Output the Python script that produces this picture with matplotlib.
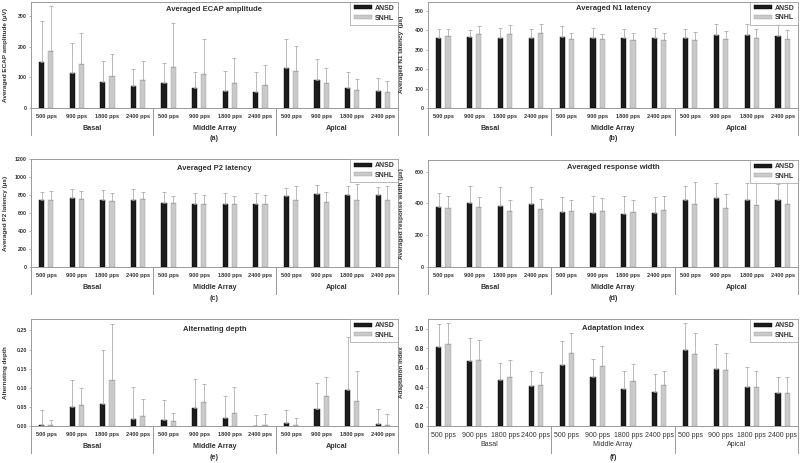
import numpy as np
import matplotlib
matplotlib.use("Agg")
import matplotlib.pyplot as plt
from matplotlib.patches import Patch
import matplotlib.transforms as mtransforms

plt.rcParams['font.family'] = ['Liberation Sans', 'DejaVu Sans']

rates = ["500 pps", "900 pps", "1800 pps", "2400 pps"]
regions = ["Basal", "Middle Array", "Apical"]

# (a) ECAP amplitude (uV)
ecap_ansd = [150, 114, 84, 71, 83, 65, 57, 51, 129, 92, 66, 55]
ecap_ansd_sd = [133, 99, 68, 55, 64, 52, 65, 66, 95, 68, 51, 42]
ecap_snhl = [185, 142, 104, 91, 134, 110, 82, 74, 121, 80, 59, 52]
ecap_snhl_sd = [148, 103, 72, 61, 143, 114, 80, 66, 80, 49, 37, 35]

# (b) N1 latency (us)
n1_ansd = [361, 365, 358, 358, 365, 358, 358, 361, 361, 375, 373, 368]
n1_ansd_sd = [43, 37, 51, 50, 55, 51, 46, 48, 43, 57, 59, 64]
n1_snhl = [370, 380, 378, 385, 354, 354, 351, 349, 351, 356, 360, 356]
n1_snhl_sd = [38, 40, 47, 45, 30, 28, 34, 35, 38, 40, 44, 43]

# (c) P2 latency (us)
p2_ansd = [740, 765, 740, 750, 715, 700, 695, 700, 785, 810, 795, 795]
p2_ansd_sd = [95, 100, 115, 115, 115, 120, 130, 120, 95, 100, 100, 95]
p2_snhl = [745, 755, 730, 755, 710, 705, 700, 705, 745, 725, 745, 745]
p2_snhl_sd = [95, 90, 95, 80, 80, 90, 90, 95, 150, 105, 175, 155]

# (d) response width (us)
rw_ansd = [375, 400, 383, 394, 349, 341, 337, 341, 421, 436, 421, 423]
rw_ansd_sd = [88, 109, 118, 111, 95, 109, 113, 103, 91, 92, 107, 101]
rw_snhl = [373, 375, 354, 368, 352, 352, 347, 362, 394, 373, 389, 394]
rw_snhl_sd = [73, 67, 69, 61, 71, 84, 78, 86, 141, 84, 154, 145]

# (e) alternating depth
ad_ansd = [0.003, 0.049, 0.058, 0.019, 0.015, 0.046, 0.021, 0.0, 0.008, 0.044, 0.095, 0.005]
ad_ansd_sd = [0.038, 0.071, 0.141, 0.084, 0.052, 0.078, 0.057, 0.030, 0.034, 0.068, 0.139, 0.039]
ad_snhl = [0.002, 0.056, 0.120, 0.025, 0.012, 0.064, 0.033, 0.003, 0.002, 0.079, 0.065, 0.002]
ad_snhl_sd = [0.014, 0.044, 0.146, 0.045, 0.023, 0.046, 0.069, 0.028, 0.018, 0.048, 0.078, 0.029]

# (f) adaptation index
ai_ansd = [0.81, 0.665, 0.47, 0.41, 0.63, 0.505, 0.385, 0.345, 0.785, 0.59, 0.405, 0.34]
ai_ansd_sd = [0.24, 0.235, 0.18, 0.155, 0.24, 0.185, 0.185, 0.19, 0.275, 0.25, 0.205, 0.16]
ai_snhl = [0.845, 0.675, 0.50, 0.425, 0.75, 0.62, 0.465, 0.425, 0.74, 0.58, 0.40, 0.34]
ai_snhl_sd = [0.21, 0.205, 0.175, 0.13, 0.205, 0.20, 0.17, 0.145, 0.22, 0.17, 0.165, 0.165]

ANSD_COL = "#1c1c1c"
SNHL_COL = "#c9c9c9"
FRAME = "#9a9a9a"


def draw_panel(ax, ansd, ansd_sd, snhl, snhl_sd, title, ylabel, yticks, ytop,
               fmt, letter, title_y, big=False):
    x = np.arange(len(ansd))
    w = 0.17
    err_kw = dict(ecolor="#a0a0a0", elinewidth=0.5, capsize=1.3, capthick=0.5)
    ax.bar(x - 0.15, ansd, w, color=ANSD_COL, edgecolor="#000000", linewidth=0.3,
           yerr=[np.zeros(len(ansd)), ansd_sd], error_kw=err_kw, zorder=3)
    ax.bar(x + 0.15, snhl, w, color=SNHL_COL, edgecolor="#9a9a9a", linewidth=0.3,
           yerr=[np.zeros(len(snhl)), snhl_sd], error_kw=err_kw, zorder=3)
    ax.set_xlim(-0.5, 11.5)
    ax.set_ylim(0, ytop)
    ax.set_yticks(yticks)
    ax.set_yticklabels([fmt.format(v) for v in yticks])
    for s in ax.spines.values():
        s.set_color(FRAME)
        s.set_linewidth(0.7)
    ax.tick_params(axis="y", length=1.5, width=0.5, color=FRAME, pad=1.5,
                   labelsize=4.8 if big else 3.8, labelcolor="#333333")
    for lab in ax.get_yticklabels():
        lab.set_fontweight("bold")
    ax.set_xticks(x)
    ax.set_xticklabels(rates * 3, fontsize=5.0 if big else 4.1,
                       fontweight="normal" if big else "bold", color="#333333")
    ax.tick_params(axis="x", length=0, pad=4.5 if big else 4.2)

    trans = mtransforms.blended_transform_factory(ax.transData, ax.transAxes)
    for b in [-0.5, 3.5, 7.5, 11.5]:
        ax.plot([b, b], [0, -0.25], transform=trans, color=FRAME, lw=0.7,
                clip_on=False)
    for i, r in enumerate(regions):
        ax.text(4 * i + 1.5, -0.17 if big else -0.19, r, transform=trans,
                ha="center", va="center", fontsize=5.0 if big else 5.2,
                fontweight="normal" if big else "bold", color="#333333")
    ax.text(0.5, -0.29, letter, transform=ax.transAxes, ha="center",
            va="center", fontsize=5.2, fontweight="bold", color="#333333")

    ax.text(0.5, title_y, title, transform=ax.transAxes, ha="center",
            va="center", fontsize=5.5, fontweight="bold", color="#333333")
    ax.set_ylabel(ylabel, fontsize=4.6, fontweight="bold", color="#333333")
    ax.yaxis.set_label_coords(-0.064, 0.5)

    handles = [Patch(facecolor=ANSD_COL, edgecolor="#000000", linewidth=0.3),
               Patch(facecolor=SNHL_COL, edgecolor="#9a9a9a", linewidth=0.3)]
    leg = ax.legend(handles, ["ANSD", "SNHL"], loc="upper right",
                    borderaxespad=0, fancybox=False, handlelength=2.6,
                    handleheight=0.5, handletextpad=0.5, borderpad=0.45,
                    labelspacing=0.4,
                    prop={"size": 5.0, "weight": "bold"})
    leg.get_frame().set_edgecolor(FRAME)
    leg.get_frame().set_linewidth(0.6)
    for t in leg.get_texts():
        t.set_color("#333333")


fig = plt.figure(figsize=(8, 4.63), dpi=100)
H = 463.0
W = 800.0


def px_axes(left, top, right, bottom):
    return fig.add_axes([left / W, 1 - bottom / H, (right - left) / W, (bottom - top) / H])


ax_a = px_axes(31, 1.7, 398, 108)
ax_b = px_axes(428, 1.5, 798, 108)
ax_c = px_axes(31, 159, 398, 267)
ax_d = px_axes(428, 160, 798, 267)
ax_e = px_axes(31, 319, 398, 426)
ax_f = px_axes(428, 319, 798, 426)

draw_panel(ax_a, ecap_ansd, ecap_ansd_sd, ecap_snhl, ecap_snhl_sd,
           "Averaged ECAP amplitude", "Averaged ECAP amplitude (\u00b5V)",
           [0, 100, 200, 300], 347, "{:.0f}", "(a)", 0.93)
draw_panel(ax_b, n1_ansd, n1_ansd_sd, n1_snhl, n1_snhl_sd,
           "Averaged N1 latency", "Averaged N1 latency  (\u00b5s)",
           [0, 100, 200, 300, 400, 500], 547, "{:.0f}", "(b)", 0.93)
draw_panel(ax_c, p2_ansd, p2_ansd_sd, p2_snhl, p2_snhl_sd,
           "Averaged P2 latency", "Averaged P2 latency (\u00b5s)",
           [0, 200, 400, 600, 800, 1000, 1200], 1200, "{:.0f}", "(c)", 0.91)
draw_panel(ax_d, rw_ansd, rw_ansd_sd, rw_snhl, rw_snhl_sd,
           "Averaged response width", "Averaged response width (\u00b5s)",
           [0, 200, 400, 600], 674, "{:.0f}", "(d)", 0.93)
draw_panel(ax_e, ad_ansd, ad_ansd_sd, ad_snhl, ad_snhl_sd,
           "Alternating depth", "Alternating depth",
           [0, 0.05, 0.10, 0.15, 0.20, 0.25], 0.28, "{:.2f}", "(e)", 0.90)
draw_panel(ax_f, ai_ansd, ai_ansd_sd, ai_snhl, ai_snhl_sd,
           "Adaptation index", "Adaptation index",
           [0, 0.2, 0.4, 0.6, 0.8, 1.0], 1.1, "{:.1f}", "(f)", 0.915, big=True)

fig.savefig("out.png", dpi=100)
plt.close(fig)
